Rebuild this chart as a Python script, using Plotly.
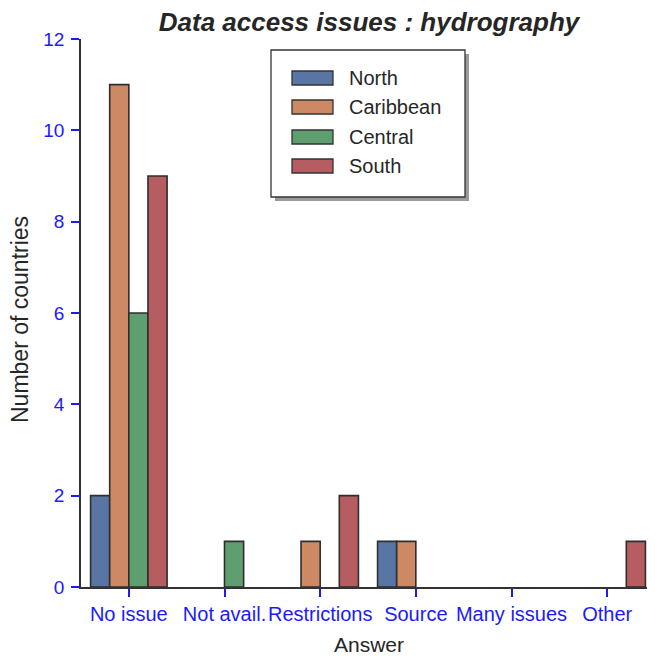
import plotly.graph_objects as go

categories = ["No issue", "Not avail.", "Restrictions", "Source", "Many issues", "Other"]
regions = ["North", "Caribbean", "Central", "South"]
north = [2, 0, 0, 1, 0, 0]
caribbean = [11, 0, 1, 1, 0, 0]
central = [6, 1, 0, 0, 0, 0]
south = [9, 0, 2, 0, 0, 1]
colors = ["#5975a4", "#cc8963", "#5f9e6e", "#b55d60"]
y_ticks = [0, 2, 4, 6, 8, 10, 12]

series = [north, caribbean, central, south]

# page has an 8px body margin; coordinates below are in window pixels
OFF = 8
W, H = 655 - OFF, 657 - OFF
L, R, T, B = 81, 655, 39, 587  # window px of the plot area

fig = go.Figure()
for name, vals, col in zip(regions, series, colors):
    fig.add_trace(go.Bar(
        x=categories,
        y=[v if v else None for v in vals],
        name=name,
        marker=dict(color=col, line=dict(color="#2e2e2e", width=1.6)),
        showlegend=False,
    ))

def px_x(px):
    return (px - L) / (R - L)

def px_y(py):
    return (B - py) / (B - T)

FONT = "Liberation Sans, Arial, sans-serif"
shapes = []
annotations = []
# legend shadow and box
shapes.append(dict(type="rect", xref="paper", yref="paper",
                   x0=px_x(275), x1=px_x(469), y0=px_y(201), y1=px_y(54),
                   fillcolor="#9a9a9a", line=dict(width=0), layer="above"))
shapes.append(dict(type="rect", xref="paper", yref="paper",
                   x0=px_x(271), x1=px_x(465), y0=px_y(197), y1=px_y(50),
                   fillcolor="white", line=dict(color="#333333", width=1.3), layer="above"))
row_y = [78, 107, 137, 166]
for name, col, ry in zip(regions, colors, row_y):
    shapes.append(dict(type="rect", xref="paper", yref="paper",
                       x0=px_x(292), x1=px_x(333), y0=px_y(ry + 7), y1=px_y(ry - 7),
                       fillcolor=col, line=dict(color="#333333", width=1.3), layer="above"))
    annotations.append(dict(xref="paper", yref="paper", x=px_x(347), y=px_y(ry),
                            text=name, showarrow=False, xanchor="left", yanchor="middle",
                            font=dict(size=20, color="#262626", family=FONT)))

# axis titles
annotations.append(dict(xref="paper", yref="paper", x=px_x(369), y=px_y(644),
                        text="Answer", showarrow=False, xanchor="center", yanchor="middle",
                        font=dict(size=21, color="#262626", family=FONT)))
annotations.append(dict(xref="paper", yref="paper", x=px_x(20), y=px_y(320),
                        text="Number of countries", showarrow=False, textangle=-90,
                        xanchor="center", yanchor="middle",
                        font=dict(size=23, color="#262626", family=FONT)))

fig.update_layout(
    width=W, height=H,
    margin=dict(l=L - OFF, r=0, t=T - OFF, b=H - (B - OFF), autoexpand=False),
    paper_bgcolor="white", plot_bgcolor="white",
    barmode="group", bargap=0.2, bargroupgap=0,
    font=dict(family=FONT, color="#262626"),
    title=dict(text="<b><i>Data access issues : hydrography</i></b>",
               x=(369 - OFF) / W, xanchor="center", xref="container",
               y=1 - (22 - OFF) / H, yanchor="middle", yref="container",
               font=dict(size=26, color="#262626")),
    xaxis=dict(
        range=[-0.5, 5.5], showgrid=False, zeroline=False, automargin=False,
        showline=True, linecolor="#333333", linewidth=1.6,
        ticks="outside", ticklen=8, tickwidth=2, tickcolor="#1a1aff",
        tickangle=0, tickfont=dict(size=20, color="#1a1aff"),
    ),
    yaxis=dict(
        range=[0, 12], tickvals=y_ticks, showgrid=False, zeroline=False, automargin=False,
        showline=True, linecolor="#333333", linewidth=1.6,
        ticks="outside", ticklen=8, tickwidth=2, tickcolor="#1a1aff",
        ticklabelstandoff=3,
        tickfont=dict(size=19, color="#1a1aff"),
    ),
    shapes=shapes,
    annotations=annotations,
)

fig.write_html("out.html")
